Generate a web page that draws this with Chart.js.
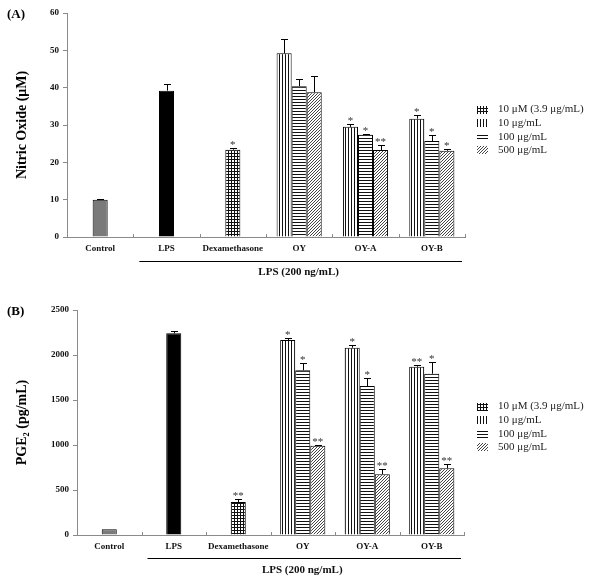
<!DOCTYPE html>
<html><head><meta charset="utf-8">
<script src="https://cdn.jsdelivr.net/npm/chart.js@4.4.1/dist/chart.umd.min.js"></script>
<style>
html,body{margin:0;padding:0;background:#fff;width:600px;height:584px;overflow:hidden;}
#wrapA{position:absolute;left:0;top:0;width:600px;height:290px;}
#wrapB{position:absolute;left:0;top:290px;width:600px;height:294px;}
canvas{display:block;}
</style></head><body>
<div id="wrapA"><canvas id="chartA" width="600" height="290"></canvas></div>
<div id="wrapB"><canvas id="chartB" width="600" height="294"></canvas></div>
<script>
// ---------- data ----------
const categories = ['Control', 'LPS', 'Dexamethasone', 'OY', 'OY-A', 'OY-B'];
const seriesLabels = ['10 μM (3.9 μg/mL)', '10 μg/mL', '100 μg/mL', '500 μg/mL'];
const groupLabel = 'LPS (200 ng/mL)';

// Panel A: Nitric oxide (μM) — single bars: Control, LPS, Dexamethasone
const noSingle = [10.0, 39.2, 23.4];
const noSingleErr = [0.2, 1.8, 0.4];
const noSingleSig = ['', '', '*'];
// extracts OY, OY-A, OY-B
const no10 = [49.2, 29.5, 31.7];
const no10Err = [3.8, 0.8, 1.1];
const no10Sig = ['', '*', '*'];
const no100 = [40.4, 27.4, 25.7];
const no100Err = [2.0, 0.3, 1.5];
const no100Sig = ['', '*', '*'];
const no500 = [38.8, 23.3, 23.1];
const no500Err = [4.3, 1.3, 0.4];
const no500Sig = ['', '**', '*'];
const noTicks = [0, 10, 20, 30, 40, 50, 60];

// Panel B: PGE2 (pg/mL)
const pgeSingle = [65, 2241, 367];
const pgeSingleErr = [0, 30, 30];
const pgeSingleSig = ['', '', '**'];
const pge10 = [2167, 2081, 1870];
const pge10Err = [26, 26, 15];
const pge10Sig = ['*', '*', '**'];
const pge100 = [1830, 1655, 1792];
const pge100Err = [77, 86, 126];
const pge100Sig = ['*', '*', '*'];
const pge500 = [992, 674, 741];
const pge500Err = [10, 56, 48];
const pge500Sig = ['**', '**', '**'];
const pgeTicks = [0, 500, 1000, 1500, 2000, 2500];

// ---------- styling helpers ----------
const AXIS = '#8a8a8a';
const SERIF = '"Liberation Serif", "Times New Roman", serif';
Chart.defaults.font.family = SERIF;

function makePattern(kind) {
  const c = document.createElement('canvas');
  const n = 3;
  c.width = n; c.height = n;
  const g = c.getContext('2d');
  g.fillStyle = '#fff'; g.fillRect(0, 0, n, n);
  g.fillStyle = '#111';
  if (kind === 'grid') { g.fillRect(0, 0, 1, n); g.fillRect(0, 0, n, 1); }
  if (kind === 'vert') { g.fillRect(0, 0, 1, n); }
  if (kind === 'horz') { g.fillRect(0, 0, n, 1); }
  if (kind === 'diag') { g.fillStyle = '#444'; for (let i = 0; i < n; i++) g.fillRect(i, n - 1 - i, 1, 1); }
  return g.createPattern(c, 'repeat');
}

const pad = (arr, offset) => categories.map((_, i) => (i - offset >= 0 && i - offset < arr.length) ? arr[i - offset] : null);
const one = (arr, idx) => categories.map((_, i) => i === idx ? arr[idx] : null);

function buildDatasets(single, singleErr, singleSig, s10, e10, g10, s100, e100, g100, s500, e500, g500, catPct) {
  const base = { borderColor: '#000', borderWidth: 1, skipNull: true, categoryPercentage: catPct };
  const singles = [
    { label: categories[0], fill: '#7a7a7a', inLegend: false },
    { label: categories[1], fill: '#000', inLegend: false },
    { label: seriesLabels[0], fill: makePattern('grid'), inLegend: true }
  ].map((d, k) => Object.assign({}, base, {
    label: d.label, data: one(single, k), errors: one(singleErr, k), sig: one(singleSig, k),
    backgroundColor: d.fill, barPercentage: 1 / 3, inLegend: d.inLegend
  }));
  const groups = [
    { label: seriesLabels[1], fill: makePattern('vert'), v: s10, e: e10, g: g10 },
    { label: seriesLabels[2], fill: makePattern('horz'), v: s100, e: e100, g: g100 },
    { label: seriesLabels[3], fill: makePattern('diag'), v: s500, e: e500, g: g500 }
  ].map(d => Object.assign({}, base, {
    label: d.label, data: pad(d.v, 3), errors: pad(d.e, 3), sig: pad(d.g, 3),
    backgroundColor: d.fill, barPercentage: 1, inLegend: true
  }));
  return singles.concat(groups);
}

const extras = {
  id: 'extras',
  afterDatasetsDraw(chart, args, opts) {
    const ctx = chart.ctx;
    const xs = chart.scales.x, ys = chart.scales.y;
    const area = chart.chartArea;
    ctx.save();
    // inward tick marks on x axis at category boundaries
    const catW = (xs.right - xs.left) / categories.length;
    ctx.strokeStyle = AXIS; ctx.lineWidth = 1;
    ctx.beginPath();
    for (let i = 1; i <= categories.length; i++) {
      const x = Math.round(xs.left + i * catW) + 0.5;
      ctx.moveTo(x, area.bottom); ctx.lineTo(x, area.bottom - 3);
    }
    ctx.stroke();
    // error bars + significance marks
    chart.data.datasets.forEach((ds, di) => {
      const meta = chart.getDatasetMeta(di);
      meta.data.forEach((bar, i) => {
        const v = ds.data[i];
        if (v == null) return;
        const e = ds.errors[i] || 0;
        const x = Math.round(bar.x) + 0.5;
        const yErr = Math.round(ys.getPixelForValue(v + e)) + 0.5;
        if (e > 0) {
          ctx.strokeStyle = '#000'; ctx.lineWidth = 1;
          ctx.beginPath();
          ctx.moveTo(x, bar.y); ctx.lineTo(x, yErr);
          ctx.moveTo(x - 3.5, yErr); ctx.lineTo(x + 3.5, yErr);
          ctx.stroke();
        }
        const s = ds.sig[i];
        if (s) {
          ctx.font = '11px ' + SERIF; ctx.fillStyle = '#333';
          ctx.textAlign = 'center'; ctx.textBaseline = 'alphabetic';
          ctx.fillText(s, bar.x, yErr - 1);
        }
      });
    });
    // group line + label
    const lx1 = xs.getPixelForValue(1) - catW / 2 + 6;
    const lx2 = xs.right - 3;
    const ly = Math.round(area.bottom + opts.lineGap) + 0.5;
    ctx.strokeStyle = '#000'; ctx.lineWidth = 1;
    ctx.beginPath(); ctx.moveTo(lx1, ly); ctx.lineTo(lx2, ly); ctx.stroke();
    ctx.fillStyle = '#111'; ctx.font = 'bold 11px ' + SERIF;
    ctx.textAlign = 'center'; ctx.textBaseline = 'middle';
    ctx.fillText(groupLabel, (lx1 + lx2) / 2 - 2, area.bottom + 35);
    // panel letter
    ctx.font = 'bold 13px ' + SERIF; ctx.textAlign = 'left'; ctx.fillStyle = '#000';
    ctx.fillText(opts.panel, 7, opts.panelY);
    // legend
    const items = chart.data.datasets.filter(d => d.inLegend);
    items.forEach((d, k) => {
      const cy = area.top + 96.5 + k * 13.6;
      ctx.fillStyle = d.backgroundColor;
      ctx.fillRect(477, Math.round(cy - 4), 11, 8);
      ctx.fillStyle = '#222'; ctx.font = '11px ' + SERIF;
      ctx.textAlign = 'left'; ctx.textBaseline = 'middle';
      ctx.fillText(d.label, 498, cy);
    });
    ctx.restore();
  }
};

function makeChart(id, datasets, tickValues, yMax, yTitle, cfg) {
  return new Chart(document.getElementById(id), {
    type: 'bar',
    data: { labels: categories, datasets },
    options: {
      responsive: false, animation: false, devicePixelRatio: 1,
      layout: { padding: { top: cfg.top, right: cfg.right, left: 0, bottom: 0 } },
      plugins: {
        legend: { display: false }, tooltip: { enabled: false },
        extras: { panel: cfg.panel, panelY: cfg.panelY, lineGap: cfg.lineGap }
      },
      scales: {
        x: {
          grid: { display: false, drawTicks: false },
          border: { display: true, color: AXIS, width: 1 },
          ticks: { font: { family: SERIF, size: 9, weight: 'bold' }, color: '#111', padding: cfg.xPad, maxRotation: 0, autoSkip: false },
          afterFit: s => { s.height = cfg.xHeight; }
        },
        y: {
          min: 0, max: yMax,
          grid: { drawOnChartArea: false, drawTicks: true, tickLength: 4, color: AXIS },
          border: { color: AXIS, width: 1 },
          ticks: { font: { family: SERIF, size: 9, weight: 'bold' }, color: '#111', padding: 4, callback: v => String(v) },
          afterBuildTicks: s => { s.ticks = tickValues.map(v => ({ value: v })); },
          title: { display: true, text: yTitle, font: { family: SERIF, size: 14, weight: 'bold' }, color: '#000', padding: { top: 13.5, bottom: 0 } },
          afterFit: s => { s.width = cfg.yWidth; }
        }
      }
    },
    plugins: [extras]
  });
}

makeChart('chartA',
  buildDatasets(noSingle, noSingleErr, noSingleSig, no10, no10Err, no10Sig, no100, no100Err, no100Sig, no500, no500Err, no500Sig, 0.68),
  noTicks, 60, 'Nitric Oxide (μM)',
  { top: 13, right: 135, yWidth: 67, xHeight: 53, xPad: 6, panel: '(A)', panelY: 15, lineGap: 24 });

makeChart('chartB',
  buildDatasets(pgeSingle, pgeSingleErr, pgeSingleSig, pge10, pge10Err, pge10Sig, pge100, pge100Err, pge100Sig, pge500, pge500Err, pge500Sig, 0.70),
  pgeTicks, 2500, 'PGE₂ (pg/mL)',
  { top: 20, right: 136, yWidth: 77, xHeight: 49, xPad: 6, panel: '(B)', panelY: 22, lineGap: 23 });
</script>
</body></html>
